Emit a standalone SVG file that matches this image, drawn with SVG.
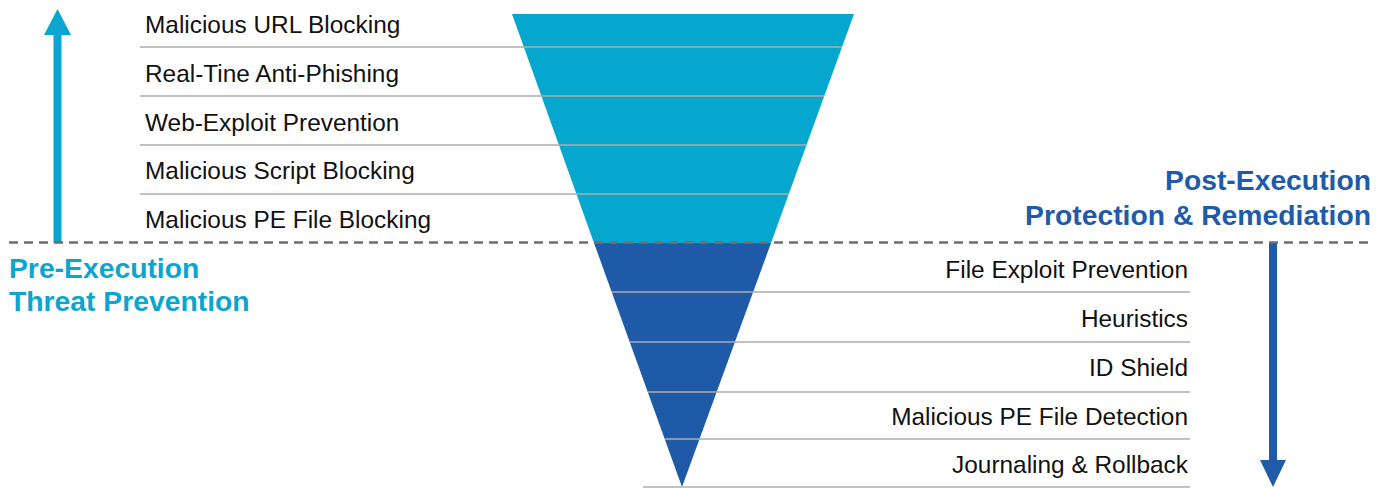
<svg xmlns="http://www.w3.org/2000/svg" width="1389" height="488" viewBox="0 0 1389 488">
  <style>
    .item { font-family: "Liberation Sans", Arial, sans-serif; font-size: 24.4px; fill: #111111; }
    .right { text-anchor: end; }
    .title { font-family: "Liberation Sans", Arial, sans-serif; font-size: 28.3px; font-weight: bold; }
    .pre { fill: #0aa6cf; }
    .post { fill: #1f5ba8; text-anchor: end; }
    .rule { stroke: #adadad; stroke-width: 1.5; fill: none; }
    .divider { stroke: #6e6e6e; stroke-width: 2.5; stroke-dasharray: 9 6; fill: none; }
  </style>

  <!-- funnel: pre-execution (upper) and post-execution (lower) stages -->
  <g id="funnel-pre">
    <polygon points="512,14 854,14 771,243 594,243" fill="#06a7cf"/>
  </g>
  <g id="funnel-post">
    <polygon points="594,243 771,243 682,487" fill="#1e5aa8"/>
  </g>

  <!-- separator rules between list items -->
  <g id="rules">
    <line class="rule" x1="140" y1="47" x2="842" y2="47"/>
    <line class="rule" x1="140" y1="96" x2="824" y2="96"/>
    <line class="rule" x1="140" y1="145" x2="806" y2="145"/>
    <line class="rule" x1="140" y1="194" x2="789" y2="194"/>
    <line class="rule" x1="612" y1="292" x2="1190" y2="292"/>
    <line class="rule" x1="630" y1="342" x2="1190" y2="342"/>
    <line class="rule" x1="648" y1="392" x2="1190" y2="392"/>
    <line class="rule" x1="665" y1="439" x2="1190" y2="439"/>
    <line class="rule" x1="643" y1="487" x2="1190" y2="487"/>
  </g>

  <!-- pre-execution items -->
  <g id="pre-items">
    <text class="item" x="145" y="33">Malicious URL Blocking</text>
    <text class="item" x="145" y="82">Real-Tine Anti-Phishing</text>
    <text class="item" x="145" y="131">Web-Exploit Prevention</text>
    <text class="item" x="145" y="179">Malicious Script Blocking</text>
    <text class="item" x="145" y="228">Malicious PE File Blocking</text>
  </g>

  <!-- post-execution items -->
  <g id="post-items">
    <text class="item right" x="1188" y="278">File Exploit Prevention</text>
    <text class="item right" x="1188" y="327">Heuristics</text>
    <text class="item right" x="1188" y="376">ID Shield</text>
    <text class="item right" x="1188" y="425">Malicious PE File Detection</text>
    <text class="item right" x="1188" y="473">Journaling &amp; Rollback</text>
  </g>

  <!-- phase titles -->
  <g id="title-pre">
    <text class="title pre" x="9" y="278">Pre-Execution</text>
    <text class="title pre" x="9" y="311">Threat Prevention</text>
  </g>
  <g id="title-post">
    <text class="title post" x="1371" y="190">Post-Execution</text>
    <text class="title post" x="1371" y="225">Protection &amp; Remediation</text>
  </g>

  <!-- direction arrows and phase divider -->
  <g id="connectors">
    <rect x="53.5" y="34" width="8" height="209" fill="#0aa6cf"/>
    <polygon points="44,35 71,35 57.5,9" fill="#0aa6cf"/>
    <rect x="1269" y="243" width="8" height="218" fill="#1f5ba8"/>
    <polygon points="1260,460 1286,460 1273,487" fill="#1f5ba8"/>
    <line class="divider" x1="9" y1="242.5" x2="1370" y2="242.5"/>
  </g>
</svg>
